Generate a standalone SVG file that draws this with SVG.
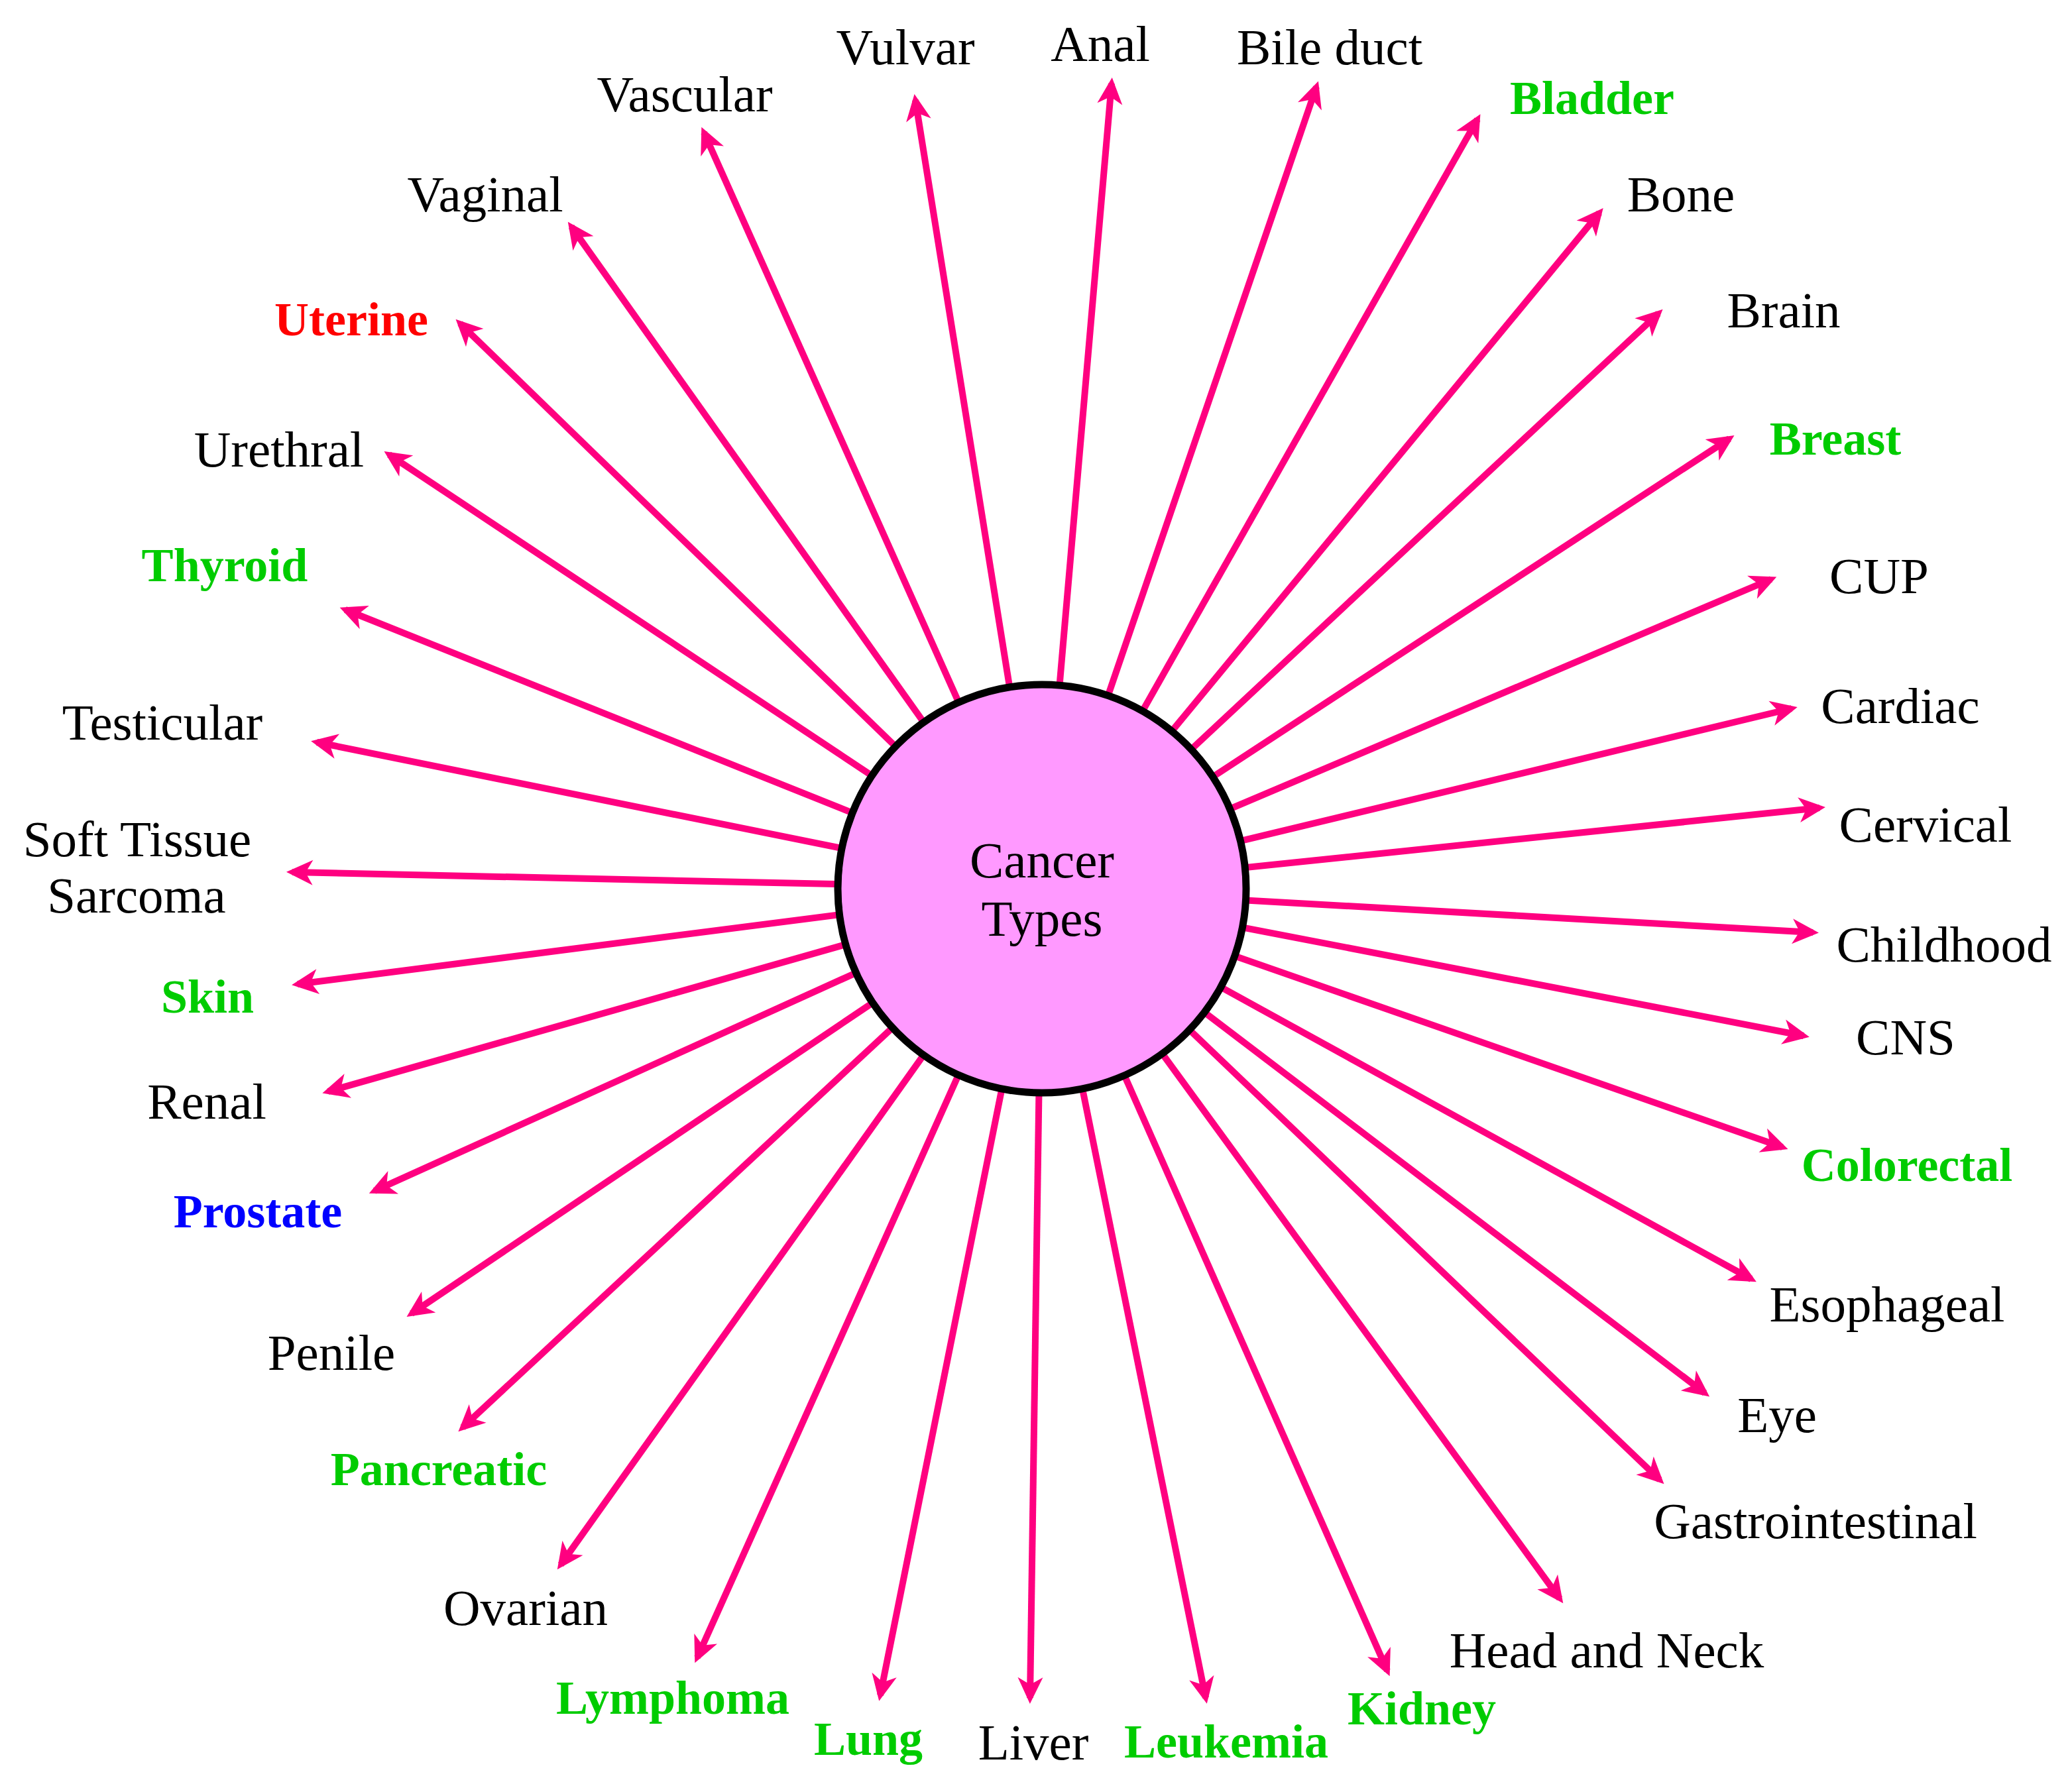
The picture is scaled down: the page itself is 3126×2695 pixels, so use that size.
<svg xmlns="http://www.w3.org/2000/svg" width="3126" height="2695" viewBox="0 0 3126 2695">
<style>
text{font-family:"Liberation Serif","Times New Roman",serif;font-size:77px;text-anchor:middle;fill:#000}
text.g{font-weight:bold;font-size:72px;fill:#00CC00}
text.b{font-weight:bold;font-size:72px;fill:#0000FF}
text.r{font-weight:bold;font-size:72px;fill:#FF0000}
#connectors path{stroke:#FF0080;stroke-width:10;fill:none;marker-end:url(#ah)}
</style>
<defs>
<marker id="ah" markerUnits="userSpaceOnUse" markerWidth="44" markerHeight="44" refX="31" refY="0" orient="auto" overflow="visible">
<path d="M0,-19 L40,0 L0,19 L11,0 Z" fill="#FF0080"/>
</marker>
</defs>
<rect width="3126" height="2695" fill="#fff"/>
<g id="connectors">
<path d="M1572 1341 L1677 126"/>
<path d="M1572 1341 L1986 131"/>
<path d="M1572 1341 L2229 180"/>
<path d="M1572 1341 L2413 321"/>
<path d="M1572 1341 L2502 473"/>
<path d="M1572 1341 L2609 662"/>
<path d="M1572 1341 L2672 874"/>
<path d="M1572 1341 L2703 1069"/>
<path d="M1572 1341 L2745 1219"/>
<path d="M1572 1341 L2735 1407"/>
<path d="M1572 1341 L2721 1563"/>
<path d="M1572 1341 L2689 1731"/>
<path d="M1572 1341 L2642 1930"/>
<path d="M1572 1341 L2572 2102"/>
<path d="M1572 1341 L2504 2233"/>
<path d="M1572 1341 L2353 2412"/>
<path d="M1572 1341 L2093 2521"/>
<path d="M1572 1341 L1819 2562"/>
<path d="M1572 1341 L1554 2562"/>
<path d="M1572 1341 L1328 2558"/>
<path d="M1572 1341 L1052 2501"/>
<path d="M1572 1341 L846 2361"/>
<path d="M1572 1341 L698 2154"/>
<path d="M1572 1341 L621 1982"/>
<path d="M1572 1341 L565 1797"/>
<path d="M1572 1341 L495 1647"/>
<path d="M1572 1341 L449 1485"/>
<path d="M1572 1341 L441 1316"/>
<path d="M1572 1341 L478 1120"/>
<path d="M1572 1341 L521 920"/>
<path d="M1572 1341 L587 686"/>
<path d="M1572 1341 L694 488"/>
<path d="M1572 1341 L862 342"/>
<path d="M1572 1341 L1062 200"/>
<path d="M1572 1341 L1381 151"/>
</g>
<g id="center">
<circle cx="1572" cy="1341" r="308" fill="#FF99FF" stroke="#000" stroke-width="11"/>
<text x="1572" y="1324">Cancer</text>
<text x="1572" y="1412">Types</text>
</g>
<g id="n-anal"><text x="1660" y="92">Anal</text></g>
<g id="n-bile"><text x="2006" y="97">Bile duct</text></g>
<g id="n-bladder"><text class="g" x="2402" y="172">Bladder</text></g>
<g id="n-bone"><text x="2536" y="319">Bone</text></g>
<g id="n-brain"><text x="2691" y="494">Brain</text></g>
<g id="n-breast"><text class="g" x="2769" y="686">Breast</text></g>
<g id="n-cup"><text x="2835" y="895">CUP</text></g>
<g id="n-cardiac"><text x="2867" y="1091">Cardiac</text></g>
<g id="n-cervical"><text x="2905" y="1270">Cervical</text></g>
<g id="n-childhood"><text x="2933" y="1451">Childhood</text></g>
<g id="n-cns"><text x="2875" y="1591">CNS</text></g>
<g id="n-colorectal"><text class="g" x="2877" y="1782">Colorectal</text></g>
<g id="n-esophageal"><text x="2847" y="1994">Esophageal</text></g>
<g id="n-eye"><text x="2681" y="2161">Eye</text></g>
<g id="n-gi"><text x="2739" y="2321">Gastrointestinal</text></g>
<g id="n-headneck"><text x="2424" y="2516">Head and Neck</text></g>
<g id="n-kidney"><text class="g" x="2145" y="2602">Kidney</text></g>
<g id="n-leukemia"><text class="g" x="1850" y="2652">Leukemia</text></g>
<g id="n-liver"><text x="1559" y="2655">Liver</text></g>
<g id="n-lung"><text class="g" x="1310" y="2648">Lung</text></g>
<g id="n-lymphoma"><text class="g" x="1015" y="2586">Lymphoma</text></g>
<g id="n-ovarian"><text x="793" y="2452">Ovarian</text></g>
<g id="n-pancreatic"><text class="g" x="662" y="2241">Pancreatic</text></g>
<g id="n-penile"><text x="500" y="2067">Penile</text></g>
<g id="n-prostate"><text class="b" x="389" y="1852">Prostate</text></g>
<g id="n-renal"><text x="312" y="1688">Renal</text></g>
<g id="n-skin"><text class="g" x="313" y="1528">Skin</text></g>
<g id="n-softtissue"><text x="207" y="1292">Soft Tissue</text><text x="206" y="1377">Sarcoma</text></g>
<g id="n-testicular"><text x="245" y="1116">Testicular</text></g>
<g id="n-thyroid"><text class="g" x="339" y="877">Thyroid</text></g>
<g id="n-urethral"><text x="421" y="704">Urethral</text></g>
<g id="n-uterine"><text class="r" x="530" y="506">Uterine</text></g>
<g id="n-vaginal"><text x="732" y="319">Vaginal</text></g>
<g id="n-vascular"><text x="1033" y="168">Vascular</text></g>
<g id="n-vulvar"><text x="1366" y="97">Vulvar</text></g>
</svg>
